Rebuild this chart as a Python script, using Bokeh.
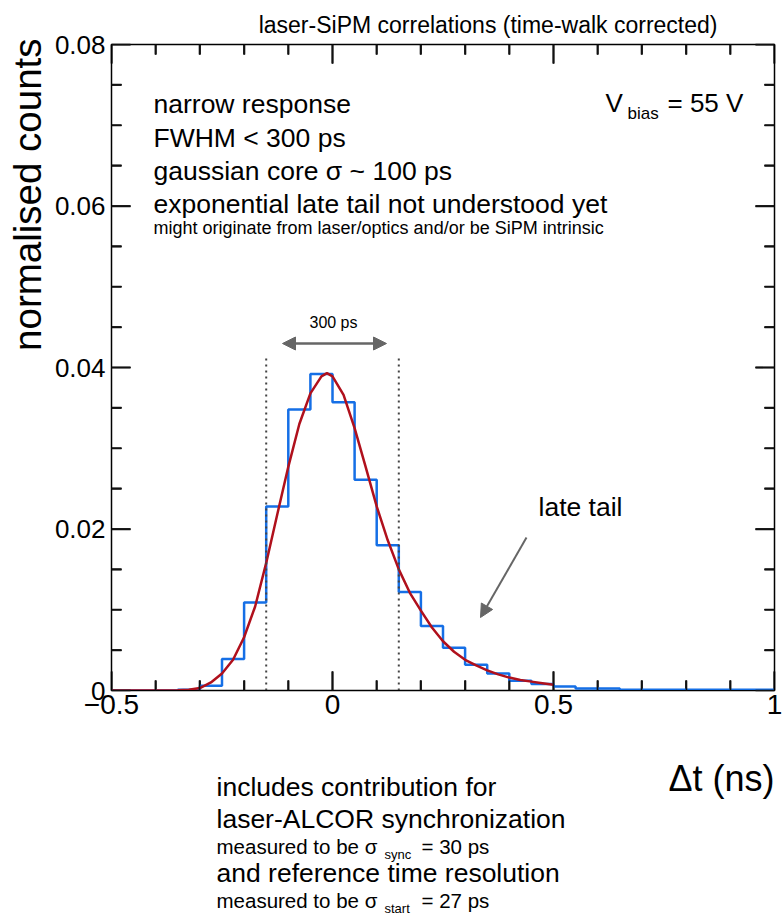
import numpy as np
from bokeh.plotting import figure
from bokeh.layouts import column
from bokeh.models import Range1d, LinearAxis, FixedTicker, Label, Arrow, NormalHead, Title
from bokeh.core.properties import value
from bokeh.embed import file_html
from bokeh.resources import INLINE

# ---------------- data ----------------
bin_edges = [-0.50, -0.45, -0.40, -0.35, -0.30, -0.25, -0.20, -0.15, -0.10, -0.05,
             0.00, 0.05, 0.10, 0.15, 0.20, 0.25, 0.30, 0.35, 0.40, 0.45,
             0.50, 0.55, 0.60, 0.65, 0.70, 0.75, 0.80, 0.85, 0.90, 0.95, 1.00]
counts = [0.0, 0.0, 0.0, 0.0001, 0.0006, 0.0039, 0.0109, 0.0228, 0.0348, 0.0392,
          0.0357, 0.0261, 0.0180, 0.0122, 0.0080, 0.0053, 0.0032, 0.0021, 0.0012, 0.0008,
          0.0005, 0.00025, 0.00025, 0.0001, 0.0001, 0.0001, 0.0001, 0.0001, 0.0001, 0.0001]

fit_t = [-0.50, -0.45, -0.40, -0.35, -0.325, -0.30, -0.275, -0.25, -0.225, -0.20,
         -0.175, -0.15, -0.125, -0.10, -0.075, -0.05, -0.025, -0.0125, 0.0, 0.025,
         0.05, 0.075, 0.10, 0.125, 0.15, 0.175, 0.20, 0.225, 0.25, 0.275,
         0.30, 0.325, 0.35, 0.375, 0.40, 0.425, 0.45, 0.475, 0.50]
fit_y = [0.0, 0.0, 0.0, 0.00002, 0.00008, 0.0003, 0.0010, 0.0021, 0.0038, 0.0066,
         0.0104, 0.0158, 0.0218, 0.0277, 0.0330, 0.0368, 0.0389, 0.0393, 0.0389, 0.0366,
         0.0325, 0.0277, 0.0228, 0.0186, 0.0150, 0.0121, 0.0099, 0.0078, 0.0061, 0.0048,
         0.0038, 0.0031, 0.0025, 0.0020, 0.0016, 0.0013, 0.0011, 0.0009, 0.0007]

fwhm_window = [-0.15, 0.15]
fwhm_top = 0.0416

x_major = [-0.5, 0.0, 0.5, 1.0]
x_minor = [-0.4, -0.3, -0.2, -0.1, 0.1, 0.2, 0.3, 0.4, 0.6, 0.7, 0.8, 0.9]
x_labels = {-0.5: "\u22120.5", 0.0: "0", 0.5: "0.5", 1.0: "1"}
y_major = [0.0, 0.02, 0.04, 0.06, 0.08]
y_minor = [0.005, 0.01, 0.015, 0.025, 0.03, 0.035, 0.045, 0.05, 0.055, 0.065, 0.07, 0.075]
y_labels = {0.0: "0", 0.02: "0.02", 0.04: "0.04", 0.06: "0.06", 0.08: "0.08"}

# ---------------- geometry (page pixels) ----------------
FL, FR, FT, FB = 111.0, 774.0, 44.0, 690.0   # frame edges in page pixels
W = 782
TOP_H = 735                                   # height of main figure
XMIN, XMAX, YMIN, YMAX = -0.5, 1.0, 0.0, 0.08
DX = (XMAX - XMIN) / (FR - FL)                # data per pixel
DY = (YMAX - YMIN) / (FB - FT)


def X(px):
    return XMIN + (px - FL) * DX


def Y(py):
    return YMIN + (FB - py) * DY


FONT = "Liberation Sans"
BLUE = "#156fe6"
RED = "#b0101c"
GRAY = "#666666"
TICK = "#111111"
MAJ, MIN = 19, 10                              # tick lengths (px)

p = figure(x_range=Range1d(XMIN, XMAX), y_range=Range1d(YMIN, YMAX),
           frame_width=int(FR - FL), frame_height=int(FB - FT),
           min_border_left=int(FL), min_border_top=int(FT),
           min_border_right=int(W - FR), min_border_bottom=int(TOP_H - FB),
           toolbar_location=None, output_backend="svg",
           background_fill_color="white", border_fill_color="white",
           x_axis_type=None, y_axis_type=None)
p.xgrid.visible = False
p.ygrid.visible = False
p.outline_line_color = "black"
p.outline_line_width = 1.5


def style_axis(ax, ticks, minors, labels, size, standoff, show=True):
    ax.ticker = FixedTicker(ticks=ticks, minor_ticks=minors)
    ax.major_tick_in = MAJ
    ax.major_tick_out = 0
    ax.minor_tick_in = MIN
    ax.minor_tick_out = 0
    ax.major_tick_line_color = TICK
    ax.minor_tick_line_color = TICK
    ax.major_tick_line_width = 1.6
    ax.minor_tick_line_width = 1.6
    ax.axis_line_color = "black"
    if show:
        ax.major_label_overrides = labels
        ax.major_label_text_font = FONT
        ax.major_label_text_font_size = size
        ax.major_label_text_color = "black"
        ax.major_label_standoff = standoff
    else:
        ax.major_label_overrides = {t: "" for t in ticks}
        ax.major_label_text_font_size = "0px"
        ax.major_label_standoff = 0


xb = LinearAxis()
style_axis(xb, x_major, x_minor, x_labels, "28px", 4)
p.add_layout(xb, "below")
yl = LinearAxis()
style_axis(yl, y_major, y_minor, y_labels, "26px", 6)
p.add_layout(yl, "left")
xa = LinearAxis()
style_axis(xa, x_major, x_minor, x_labels, "28px", 0, show=False)
p.add_layout(xa, "above")
yr = LinearAxis()
style_axis(yr, y_major, y_minor, y_labels, "26px", 0, show=False)
p.add_layout(yr, "right")

# ROOT-style inward ticks on all four sides, drawn at the axis tick positions
txs, tys = [], []
for ticks, ln in ((x_major, MAJ), (x_minor, MIN)):
    for t in ticks:
        txs += [[t, t], [t, t]]
        tys += [[YMIN, YMIN + ln * DY], [YMAX, YMAX - ln * DY]]
for ticks, ln in ((y_major, MAJ), (y_minor, MIN)):
    for t in ticks:
        tys += [[t, t], [t, t]]
        txs += [[XMIN, XMIN + ln * DX], [XMAX, XMAX - ln * DX]]
p.multi_line(xs=txs, ys=tys, line_color=TICK, line_width=1.6)
p.segment(x0=[a[0] for a in txs], y0=[a[0] for a in tys],
          x1=[a[1] for a in txs], y1=[a[1] for a in tys], line_color=TICK, line_width=1.6)

# titles outside the frame
p.add_layout(Title(text="laser-SiPM correlations (time-walk corrected)", align="right",
                   offset=57, standoff=13, text_font=FONT, text_font_size="23px",
                   text_font_style="normal", text_color="black"), "above")
p.add_layout(Title(text="normalised counts", align="right", offset=-6, standoff=6,
                   text_font=FONT, text_font_size="38.5px", text_font_style="normal",
                   text_color="black"), "left")

# histogram
p.step(x=bin_edges, y=counts + [counts[-1]], mode="after", line_color=BLUE, line_width=2.5)
# fit
p.line(x=fit_t, y=fit_y, line_color=RED, line_width=2.5)
# FWHM window
p.segment(x0=fwhm_window, y0=[0, 0], x1=fwhm_window, y1=[fwhm_top, fwhm_top],
          line_color="#444444", line_width=2, line_dash="2 4")

# arrows
p.add_layout(Arrow(start=NormalHead(size=13, fill_color=GRAY, line_color=GRAY),
                   end=NormalHead(size=13, fill_color=GRAY, line_color=GRAY),
                   x_start=X(282), y_start=Y(343), x_end=X(386), y_end=Y(343),
                   line_color=GRAY, line_width=2.5))
p.add_layout(Arrow(end=NormalHead(size=13, fill_color=GRAY, line_color=GRAY),
                   x_start=X(526), y_start=Y(537), x_end=X(480), y_end=Y(617),
                   line_color=GRAY, line_width=2))


def lab(px, py, text, size, align="left", baseline="middle"):
    p.add_layout(Label(x=X(px), y=Y(py), text=text, text_font=FONT,
                       text_font_size=size, text_align=align, text_baseline=baseline,
                       text_color="black"))


lab(153, 103, "narrow response", "26.5px")
lab(153, 137, "FWHM < 300 ps", "26.5px")
lab(153, 170, "gaussian core \u03c3 ~ 100 ps", "26.5px")
lab(153, 203, "exponential late tail not understood yet", "26.5px")
lab(153, 227, "might originate from laser/optics and/or be SiPM intrinsic", "18px")
lab(605, 102, "V", "26px")
lab(627, 113, "bias", "17px")
lab(667, 102, "= 55 V", "26px")
lab(333, 322, "300 ps", "16px", align="center")
lab(538, 506, "late tail", "26.5px")

# ---------------- notes panel below (page-pixel coordinates) ----------------
NOTE_H = 918 - TOP_H
q = figure(x_range=Range1d(FL, FR), y_range=Range1d(918, TOP_H),
           frame_width=int(FR - FL), frame_height=NOTE_H,
           min_border_left=int(FL), min_border_right=int(W - FR),
           min_border_top=0, min_border_bottom=0,
           toolbar_location=None, output_backend="svg",
           x_axis_type=None, y_axis_type=None, outline_line_color=None,
           background_fill_color="white", border_fill_color="white")
q.xgrid.visible = False
q.ygrid.visible = False


def note(px, py, text, size, align="left"):
    q.text(x=[px], y=[py], text=[text], text_font=value(FONT), text_font_size=size,
           text_align=align, text_baseline="middle", text_color="black")


note(FR, 778, "\u0394t (ns)", "36px", align="right")
note(216, 786, "includes contribution for", "26.5px")
note(216, 818, "laser-ALCOR synchronization", "26.5px")
note(216, 846, "measured to be \u03c3", "20.5px")
note(384, 854, "sync", "13px")
note(421, 846, "= 30 ps", "20.5px")
note(216, 872, "and reference time resolution", "26.5px")
note(216, 900, "measured to be \u03c3", "20.5px")
note(384, 908, "start", "13px")
note(421, 900, "= 27 ps", "20.5px")

layout = column(p, q, spacing=0)
open("out.html", "w").write(file_html(layout, INLINE))
